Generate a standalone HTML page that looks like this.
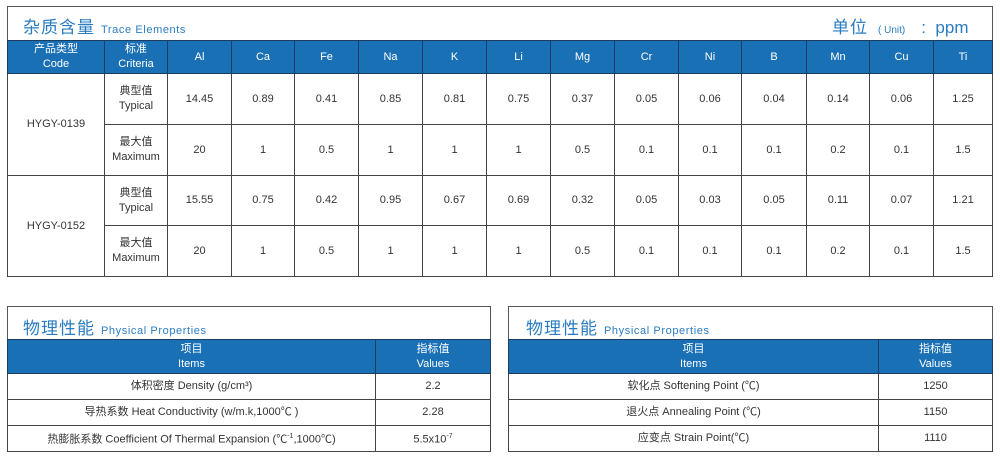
<!DOCTYPE html>
<html><head><meta charset="utf-8"><style>
*{margin:0;padding:0;box-sizing:border-box}
body{width:1000px;height:459px;background:#fff;position:relative;font-family:"Liberation Sans","Noto Sans CJK SC",sans-serif;color:#333;overflow:hidden}
.box{position:absolute;border:1px solid #555;background:#fff}
.title{position:absolute;color:#2a7cc0;white-space:nowrap}
.title .cn{font-size:17px;letter-spacing:1px}
.title .en{font-size:11px;margin-left:6px;letter-spacing:0.6px}
table{position:absolute;border-collapse:collapse;table-layout:fixed}
td,th{border:1px solid #444;text-align:center;vertical-align:middle;font-weight:normal;font-size:11px;line-height:15px;color:#333}
th{background:#1a70b5;color:#fff;border-color:#1c3d60}
</style></head><body>

<div class="box" style="left:7px;top:6px;width:986px;height:271px"></div>
<div class="title" style="top:13px;left:23px"><span class="cn">杂质含量</span><span class="en">Trace Elements</span></div>
<div style="position:absolute;top:13px;left:832px;color:#2a7cc0;white-space:nowrap"><span style="font-size:17px;letter-spacing:1px">单位</span><span style="font-size:10px;margin-left:10px">( Unit)</span><span style="font-size:17px;margin-left:16px">:&nbsp;&nbsp;ppm</span></div>
<table style="left:7px;top:40px;width:985px">
<colgroup><col style="width:97px"><col style="width:63px"><col style="width:64px"><col style="width:63px"><col style="width:64px"><col style="width:64px"><col style="width:64px"><col style="width:64px"><col style="width:64px"><col style="width:64px"><col style="width:63px"><col style="width:65px"><col style="width:63px"><col style="width:64px"><col style="width:59px"></colgroup>
<tr style="height:33px"><th>产品类型<br>Code</th><th>标准<br>Criteria</th><th>Al</th><th>Ca</th><th>Fe</th><th>Na</th><th>K</th><th>Li</th><th>Mg</th><th>Cr</th><th>Ni</th><th>B</th><th>Mn</th><th>Cu</th><th>Ti</th></tr>
<tr style="height:51px"><td rowspan="2">HYGY-0139</td><td>典型值<br>Typical</td><td>14.45</td><td>0.89</td><td>0.41</td><td>0.85</td><td>0.81</td><td>0.75</td><td>0.37</td><td>0.05</td><td>0.06</td><td>0.04</td><td>0.14</td><td>0.06</td><td>1.25</td></tr>
<tr style="height:51px"><td>最大值<br>Maximum</td><td>20</td><td>1</td><td>0.5</td><td>1</td><td>1</td><td>1</td><td>0.5</td><td>0.1</td><td>0.1</td><td>0.1</td><td>0.2</td><td>0.1</td><td>1.5</td></tr>
<tr style="height:50px"><td rowspan="2">HYGY-0152</td><td>典型值<br>Typical</td><td>15.55</td><td>0.75</td><td>0.42</td><td>0.95</td><td>0.67</td><td>0.69</td><td>0.32</td><td>0.05</td><td>0.03</td><td>0.05</td><td>0.11</td><td>0.07</td><td>1.21</td></tr>
<tr style="height:51px"><td>最大值<br>Maximum</td><td>20</td><td>1</td><td>0.5</td><td>1</td><td>1</td><td>1</td><td>0.5</td><td>0.1</td><td>0.1</td><td>0.1</td><td>0.2</td><td>0.1</td><td>1.5</td></tr>
</table>

<div class="box" style="left:7px;top:306px;width:484px;height:146px"></div>
<div class="title" style="top:314px;left:23px"><span class="cn">物理性能</span><span class="en">Physical Properties</span></div>
<table style="left:7px;top:339px;width:483px">
<colgroup><col style="width:368px"><col style="width:115px"></colgroup>
<tr style="height:34px"><th>项目<br>Items</th><th>指标值<br>Values</th></tr>
<tr style="height:26px"><td>体积密度 Density (g/cm³)</td><td>2.2</td></tr>
<tr style="height:26px"><td>导热系数 Heat Conductivity (w/m.k,1000℃ )</td><td>2.28</td></tr>
<tr style="height:26px"><td>热膨胀系数 Coefficient Of Thermal Expansion (℃<sup style="font-size:7px">-1</sup>,1000℃)</td><td>5.5x10<sup style="font-size:7px">-7</sup></td></tr>
</table>

<div class="box" style="left:508px;top:306px;width:485px;height:146px"></div>
<div class="title" style="top:314px;left:526px"><span class="cn">物理性能</span><span class="en">Physical Properties</span></div>
<table style="left:508px;top:339px;width:484px">
<colgroup><col style="width:370px"><col style="width:114px"></colgroup>
<tr style="height:34px"><th>项目<br>Items</th><th>指标值<br>Values</th></tr>
<tr style="height:26px"><td>软化点 Softening Point (℃)</td><td>1250</td></tr>
<tr style="height:26px"><td>退火点 Annealing Point (℃)</td><td>1150</td></tr>
<tr style="height:26px"><td>应变点 Strain Point(℃)</td><td>1110</td></tr>
</table>
</body></html>
